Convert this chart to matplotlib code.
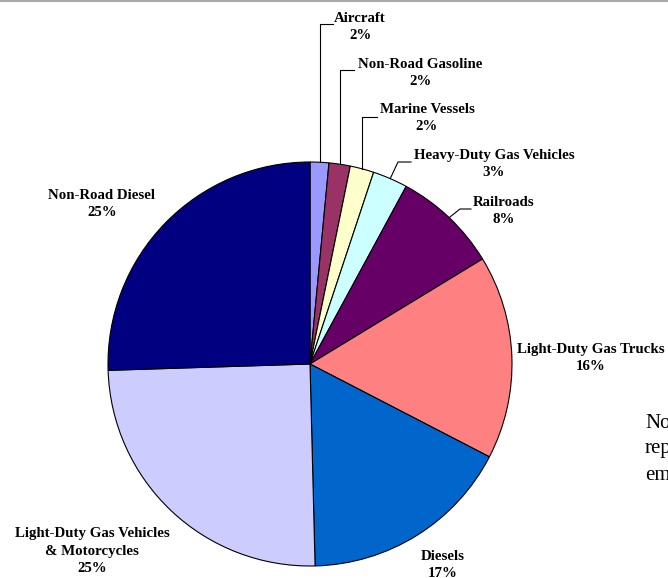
import numpy as np
from matplotlib import pyplot as plt

categories = ['Aircraft', 'Non-Road Gasoline', 'Marine Vessels', 'Heavy-Duty Gas Vehicles',
              'Railroads', 'Light-Duty Gas Trucks', 'Diesels',
              'Light-Duty Gas Vehicles\n& Motorcycles', 'Non-Road Diesel']
shares = [1.5, 1.7, 1.9, 2.8, 8.4, 16.3, 17.0, 24.9, 25.5]
pct_labels = ['2%', '2%', '2%', '3%', '8%', '16%', '17%', '25%', '25%']
colors = ['#9999FF', '#993366', '#FFFFCC', '#CCFFFF', '#660066',
          '#FF8080', '#0066CC', '#CCCCFF', '#000080']

W, H = 668, 578
cx, cy, radius = 310, 364, 202  # pixel coords, y from top

# label block centres (pixel coords) and leader bend points
label_pos = [(360, 27), (420, 73), (427, 118), (494, 164), (504, 211),
             (591, 358), (443, 565), (92, 551), (102, 204)]
leaders = {0: (None, 24, 333), 1: (None, 70, 354), 2: (None, 117, 377),
           3: (398, 162, 411), 4: (460, 209, 471)}


def py(y):
    return H - y


fig = plt.figure(figsize=(W / 100, H / 100), dpi=100)
ax = fig.add_axes([0, 0, 1, 1])
wedges, _ = ax.pie(shares, colors=colors, startangle=90, counterclock=False,
                   center=(cx, py(cy)), radius=radius,
                   wedgeprops=dict(edgecolor='black', linewidth=0.8))
ax.set_xlim(0, W)
ax.set_ylim(0, H)
ax.set_aspect('equal')
ax.axis('off')

font = dict(family='Liberation Serif', fontweight='bold', fontsize=10.7)
for i, (name, pct) in enumerate(zip(categories, pct_labels)):
    lx, ly = label_pos[i]
    ax.text(lx, py(ly), name + '\n' + pct, ha='center', va='center',
            linespacing=1.45, **font)
    if i in leaders:
        w = wedges[i]
        mid = np.deg2rad((w.theta1 + w.theta2) / 2)
        x0 = cx + radius * np.cos(mid)
        y0 = py(cy) + radius * np.sin(mid)
        bx, by, ex = leaders[i]
        if bx is None:
            bx = x0
        ax.plot([x0, bx, ex], [y0, py(by), py(by)], color='black', linewidth=0.8)

# note text at right, cut off by the page edge as in the source
note = ['Non-road', 'represents', 'emissions']
for k, line in enumerate(note):
    fig.text(645 / W, 1 - (423 + 26 * k) / H, line, family='Liberation Serif',
             fontsize=15, va='center', ha='left')

# thin grey rule at the top
fig.add_artist(plt.Line2D([0, 1], [1 - 1 / H, 1 - 1 / H], color='#a8a8a8',
                          linewidth=1.5, transform=fig.transFigure))

fig.savefig('out.png', dpi=100)
